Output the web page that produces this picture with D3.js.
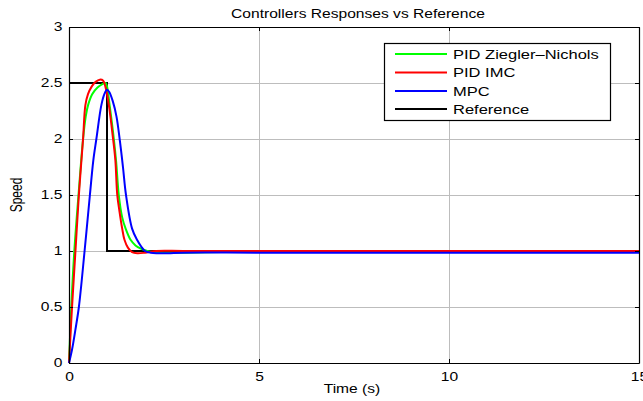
<!DOCTYPE html>
<html>
<head>
<meta charset="utf-8">
<script src="https://cdn.jsdelivr.net/npm/d3@7"></script>
<style>
  body { margin: 0; background: #fff; }
  svg { display: block; font-family: "Liberation Sans", Arial, sans-serif; }
</style>
</head>
<body>
<div id="chart"></div>
<script>
// Data
const seriesNames = ["PID Ziegler\u2013Nichols", "PID IMC", "MPC", "Reference"];
const seriesColors = ["#00ff00", "#ff0000", "#0000ff", "#000000"];

const znTime  = [0, 0.06, 0.14, 0.25, 0.37, 0.44, 0.5, 0.61, 0.75, 0.88, 0.96, 1.0, 1.07, 1.18, 1.24, 1.31, 1.4, 1.49, 1.62, 1.75, 1.9, 2.06, 2.4, 3, 4, 5, 7, 10, 15];
const znSpeed = [0, 0.5, 1.0, 1.5, 2.0, 2.2, 2.3, 2.4, 2.46, 2.49, 2.5, 2.47, 2.3, 2.0, 1.8, 1.5, 1.3, 1.2, 1.1, 1.05, 1.02, 1.0, 0.985, 0.985, 0.99, 0.995, 1.0, 1.0, 1.0];

const imcTime  = [0, 0.08, 0.17, 0.26, 0.37, 0.43, 0.5, 0.6, 0.7, 0.81, 0.9, 0.97, 1.05, 1.16, 1.22, 1.27, 1.33, 1.4, 1.46, 1.55, 1.66, 1.8, 2.0, 2.3, 3, 5, 10, 15];
const imcSpeed = [0, 0.5, 1.0, 1.5, 2.0, 2.3, 2.4, 2.47, 2.51, 2.53, 2.52, 2.45, 2.3, 2.0, 1.81, 1.5, 1.35, 1.2, 1.1, 1.03, 0.99, 0.98, 0.985, 1.0, 1.0, 1.0, 1.0, 1.0];

const mpcTime  = [0, 0.08, 0.17, 0.26, 0.41, 0.55, 0.64, 0.72, 0.85, 0.93, 1.0, 1.06, 1.15, 1.25, 1.34, 1.42, 1.5, 1.66, 1.79, 1.9, 2.0, 2.15, 2.3, 2.6, 3, 5, 10, 15];
const mpcSpeed = [0, 0.12, 0.3, 0.5, 1.0, 1.5, 1.81, 2.0, 2.3, 2.4, 2.44, 2.42, 2.34, 2.2, 1.98, 1.75, 1.5, 1.2, 1.1, 1.04, 1.0, 0.985, 0.98, 0.98, 0.985, 0.985, 0.985, 0.985];

const refTime  = [0, 1, 1, 15];
const refSpeed = [2.5, 2.5, 1, 1];

const xTicks = [0, 5, 10, 15];
const yTicks = [0, 0.5, 1, 1.5, 2, 2.5, 3];

const W = 643, H = 401;
const margin = { left: 69, right: 4, top: 27, bottom: 38 };
const stretch = 1.3; // the reference is stretched horizontally

const svg = d3.select("#chart").append("svg")
    .attr("width", W)
    .attr("height", H);

const x = d3.scaleLinear().domain([0, 15]).range([margin.left, W - margin.right]);
const y = d3.scaleLinear().domain([0, 3]).range([H - margin.bottom, margin.top]);

// grid
const grid = svg.append("g").attr("stroke", "#bdbdbd").attr("stroke-width", 1);
grid.selectAll(".gx").data(xTicks.slice(1, -1)).join("line")
    .attr("x1", d => Math.round(x(d)) + 0.5).attr("x2", d => Math.round(x(d)) + 0.5)
    .attr("y1", y(0)).attr("y2", y(3));
grid.selectAll(".gy").data(yTicks.slice(1, -1)).join("line")
    .attr("y1", d => Math.round(y(d)) + 0.5).attr("y2", d => Math.round(y(d)) + 0.5)
    .attr("x1", x(0)).attr("x2", x(15));

// series lines
const line = d3.line()
    .x(d => x(d[0]))
    .y(d => y(d[1]))
    .curve(d3.curveCatmullRom.alpha(0.5));
const refLine = d3.line().x(d => x(d[0])).y(d => y(d[1]));

const series = [
    d3.zip(znTime, znSpeed),
    d3.zip(imcTime, imcSpeed),
    d3.zip(mpcTime, mpcSpeed),
    d3.zip(refTime, refSpeed)
];

svg.append("g").attr("fill", "none").attr("stroke-width", 2)
    .selectAll("path")
    .data([3, 0, 1, 2])
    .join("path")
    .attr("stroke", i => seriesColors[i])
    .attr("d", i => i === 3 ? refLine(series[i]) : line(series[i]));

// axes with inward ticks
svg.append("g")
    .attr("transform", `translate(0,${y(0)})`)
    .call(d3.axisBottom(x).tickValues(xTicks).tickSizeInner(-4).tickSizeOuter(0).tickPadding(9));
svg.append("g")
    .attr("transform", `translate(${x(0)},0)`)
    .call(d3.axisLeft(y).tickValues(yTicks).tickFormat(d3.format("")).tickSizeInner(-4).tickSizeOuter(0).tickPadding(5));
svg.append("g")
    .attr("transform", `translate(0,${y(3)})`)
    .call(d3.axisTop(x).tickValues(xTicks).tickSizeInner(-4).tickSizeOuter(0).tickFormat(""));
svg.append("g")
    .attr("transform", `translate(${x(15)},0)`)
    .call(d3.axisRight(y).tickValues(yTicks).tickSizeInner(-4).tickSizeOuter(0).tickFormat(""));

svg.selectAll(".domain").attr("stroke", "#000").attr("stroke-width", 1.2);
svg.selectAll(".tick line").attr("stroke", "#000");
svg.selectAll(".tick text").attr("font-size", 12).attr("fill", "#000")
    .attr("font-family", "Liberation Sans, Arial, sans-serif")
    .attr("transform", `scale(${stretch},1)`);

// titles
function stretchedText(tx, ty, str, size, anchor) {
    return svg.append("text")
        .attr("transform", `translate(${tx},${ty}) scale(${stretch},1)`)
        .attr("text-anchor", anchor || "middle")
        .attr("font-size", size)
        .text(str);
}
stretchedText(358, 18, "Controllers Responses vs Reference", 12);
stretchedText(352, 393, "Time (s)", 12);
svg.append("text")
    .attr("transform", `translate(22,${(y(0) + y(3)) / 2}) scale(${stretch},1) rotate(-90)`)
    .attr("text-anchor", "middle")
    .attr("font-size", 12)
    .text("Speed");

// legend
const legend = svg.append("g");
legend.append("rect")
    .attr("x", 384.5).attr("y", 43.5)
    .attr("width", 226).attr("height", 77)
    .attr("fill", "#fff").attr("stroke", "#000").attr("stroke-width", 1.2);
const legendY = [54, 72.5, 91, 109];
seriesNames.forEach((name, i) => {
    legend.append("line")
        .attr("x1", 395).attr("x2", 447)
        .attr("y1", legendY[i]).attr("y2", legendY[i])
        .attr("stroke", seriesColors[i]).attr("stroke-width", 2);
    legend.append("text")
        .attr("transform", `translate(453,${legendY[i] + 4.5}) scale(1.27,1)`)
        .attr("font-size", 13)
        .text(name);
});
</script>
</body>
</html>
